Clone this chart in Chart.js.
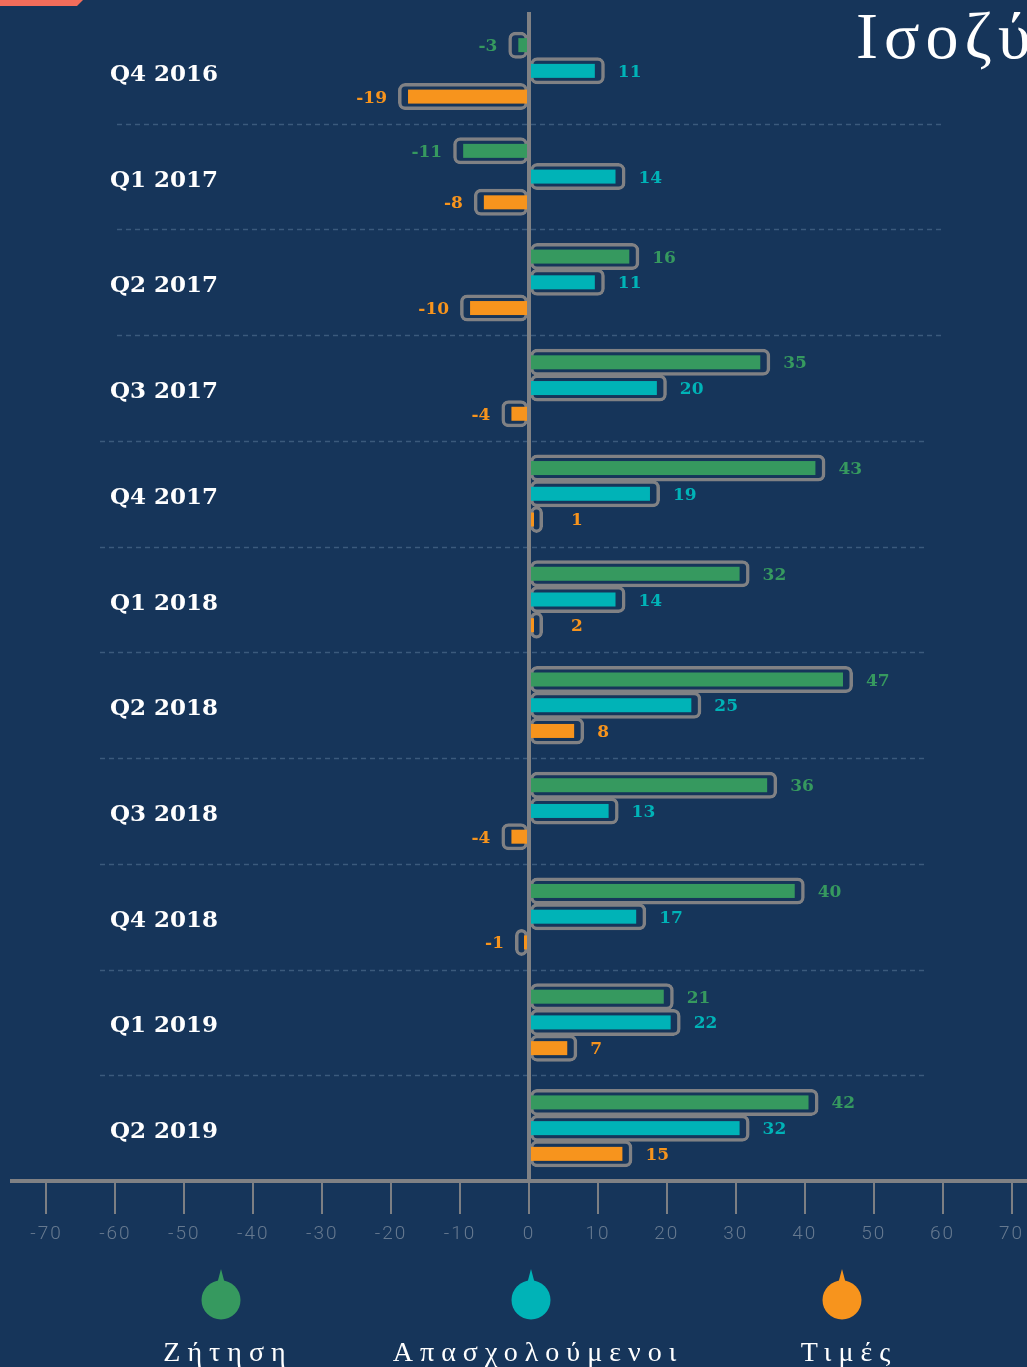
<!DOCTYPE html>
<html>
<head>
<meta charset="utf-8">
<script src="https://cdn.jsdelivr.net/npm/chart.js@4"></script>
<style>
  html, body { margin: 0; padding: 0; background: #16355a; overflow: hidden; }
  #wrap { position: relative; width: 1046px; height: 1367px; }
</style>
</head>
<body>
<div id="wrap"><canvas id="chart"></canvas></div>
<script>
const categories = ['Q4 2016', 'Q1 2017', 'Q2 2017', 'Q3 2017', 'Q4 2017', 'Q1 2018',
                    'Q2 2018', 'Q3 2018', 'Q4 2018', 'Q1 2019', 'Q2 2019'];
const demand   = [-3, -11, 16, 35, 43, 32, 47, 36, 40, 21, 42];
const employed = [11, 14, 11, 20, 19, 14, 25, 13, 17, 22, 32];
const prices   = [-19, -8, -10, -4, 1, 2, 8, -4, -1, 7, 15];
const seriesNames = ['Ζήτηση', 'Απασχολούμενοι', 'Τιμές'];
const xTickValues = [-70, -60, -50, -40, -30, -20, -10, 0, 10, 20, 30, 40, 50, 60, 70];

const colors = ['#36995f', '#00b3b7', '#f7941d'];
const outline = '#808184';

// grey rounded boxes come from chart.js, coloured inner bars + labels from this plugin
const decor = {
  id: 'decor',
  beforeDraw(chart) {
    const ctx = chart.ctx;
    ctx.save();
    ctx.fillStyle = '#f26d5b';
    ctx.beginPath();
    ctx.moveTo(0, 0); ctx.lineTo(83, 0); ctx.lineTo(77, 6); ctx.lineTo(0, 6);
    ctx.closePath();
    ctx.fill();
    ctx.fillStyle = '#ffffff';
    ctx.font = '66px "Liberation Serif"';
    ctx.letterSpacing = '6px';
    ctx.textAlign = 'left';
    ctx.textBaseline = 'alphabetic';
    ctx.fillText('Ισοζύγια', 856, 58);
    ctx.restore();
    ctx.letterSpacing = '2px'; // spaced axis tick labels
  },
  beforeDatasetsDraw(chart) {
    const ctx = chart.ctx;
    const y = chart.scales.y;
    ctx.save();
    ctx.letterSpacing = '0px';
    ctx.strokeStyle = '#3b5a7c';
    ctx.lineWidth = 1.5;
    ctx.setLineDash([5, 4]);
    for (let i = 0; i < categories.length - 1; i++) {
      const yy = Math.round((y.getPixelForValue(i) + y.getPixelForValue(i + 1)) / 2) + 0.5;
      const x0 = i < 3 ? 117 : 100;
      const x1 = i < 3 ? 941 : 924;
      ctx.beginPath();
      ctx.moveTo(x0, yy);
      ctx.lineTo(x1, yy);
      ctx.stroke();
    }
    ctx.restore();
  },
  afterDatasetsDraw(chart) {
    const ctx = chart.ctx;
    const { x: xs, y: ys } = chart.scales;
    ctx.save();
    ctx.letterSpacing = '0px';
    chart.data.datasets.forEach((ds, di) => {
      const meta = chart.getDatasetMeta(di);
      meta.data.forEach((bar, i) => {
        const v = ds.data[i];
        const sign = v < 0 ? -1 : 1;
        const base = bar.base;
        let end = bar.x - sign * 10;
        if ((end - base) * sign < 4) end = base + sign * 4;
        ctx.fillStyle = colors[di];
        ctx.fillRect(Math.min(base, end), bar.y - 7, Math.abs(end - base), 14);

        ctx.font = 'bold 17px "DejaVu Serif"';
        ctx.textBaseline = 'alphabetic';
        if (sign > 0) {
          ctx.textAlign = 'left';
          ctx.fillText(String(v), Math.max(bar.x, base + 28) + 13, bar.y + 6);
        } else {
          ctx.textAlign = 'right';
          ctx.fillText(String(v), bar.x - 11, bar.y + 6);
        }
      });
    });

    // zero line
    const x0 = xs.getPixelForValue(0);
    ctx.strokeStyle = outline;
    ctx.lineWidth = 4;
    ctx.beginPath();
    ctx.moveTo(x0, 12);
    ctx.lineTo(x0, chart.chartArea.bottom);
    ctx.stroke();

    // category labels
    ctx.fillStyle = '#ffffff';
    ctx.font = 'bold 23px "DejaVu Serif"';
    ctx.textAlign = 'left';
    ctx.textBaseline = 'alphabetic';
    categories.forEach((c, i) => {
      ctx.fillText(c, 110, ys.getPixelForValue(i) + 10);
    });
    ctx.restore();
  },
  afterDraw(chart) {
    const ctx = chart.ctx;
    ctx.save();
    const cx = [221, 531, 842];
    const cy = 1300;
    seriesNames.forEach((name, i) => {
      ctx.fillStyle = colors[i];
      ctx.beginPath();
      ctx.arc(cx[i], cy, 19.5, 0, Math.PI * 2);
      ctx.fill();
      ctx.beginPath();
      ctx.moveTo(cx[i] - 4, cy - 16);
      ctx.lineTo(cx[i], cy - 31);
      ctx.lineTo(cx[i] + 4, cy - 16);
      ctx.closePath();
      ctx.fill();

      ctx.fillStyle = '#ffffff';
      ctx.font = '28px "Liberation Serif"';
      ctx.letterSpacing = '7px';
      ctx.textAlign = 'center';
      ctx.textBaseline = 'alphabetic';
      ctx.fillText(name, cx[i] + 7, 1361);
    });
    ctx.restore();
    ctx.letterSpacing = '0px';
  }
};

new Chart(document.getElementById('chart'), {
  type: 'bar',
  data: {
    labels: categories,
    datasets: [demand, employed, prices].map((d, i) => ({
      label: seriesNames[i],
      data: d,
      backgroundColor: 'rgba(0,0,0,0)',
      borderColor: outline,
      borderWidth: 3.5,
      borderRadius: 7,
      borderSkipped: false,
      minBarLength: 14,
      barPercentage: 1.05,
      categoryPercentage: 0.73
    }))
  },
  options: {
    indexAxis: 'y',
    responsive: true,
    maintainAspectRatio: false,
    animation: false,
    layout: { padding: { left: 12, right: 0, top: 18, bottom: 0 } },
    plugins: {
      legend: { display: false },
      tooltip: { enabled: false }
    },
    scales: {
      x: {
        min: -75,
        max: 75,
        afterBuildTicks: s => { s.ticks = xTickValues.map(v => ({ value: v })); },
        afterFit: s => { s.height = 186; },
        border: { display: true, color: outline, width: 4 },
        grid: { drawOnChartArea: false, drawTicks: true, tickLength: 33, color: '#7d7f83', lineWidth: 2 },
        ticks: {
          color: '#66798f',
          padding: 9,
          maxRotation: 0,
          autoSkip: false,
          font: { family: 'Roboto', weight: 300, size: 19 }
        }
      },
      y: {
        display: false
      }
    }
  },
  plugins: [decor]
});
</script>
</body>
</html>
